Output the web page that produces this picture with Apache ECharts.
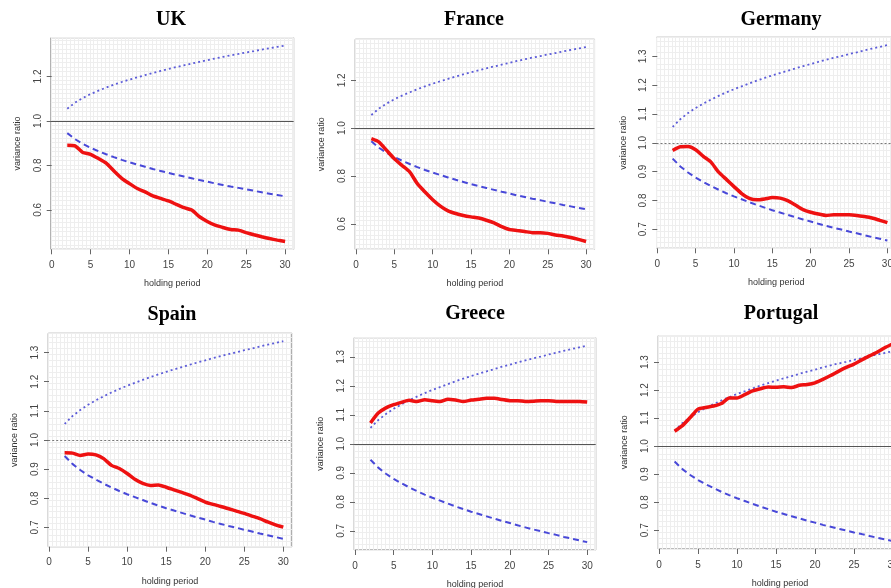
<!DOCTYPE html>
<html><head><meta charset="utf-8">
<script src="https://cdn.jsdelivr.net/npm/echarts@6/dist/echarts.min.js"></script>
<style>html,body{margin:0;padding:0;background:#fff;overflow:hidden}#c{width:891px;height:588px}</style>
</head><body><div id="c"></div>
<script>
// ---- data ----
const holdingPeriods = [2,3,4,5,6,7,8,9,10,11,12,13,14,15,16,17,18,19,20,21,22,23,24,25,26,27,28,29,30];
const upperBound = [1.055,1.082,1.103,1.121,1.136,1.150,1.163,1.175,1.186,1.196,1.206,1.216,1.225,1.234,1.242,1.250,1.258,1.266,1.273,1.281,1.288,1.295,1.301,1.308,1.314,1.321,1.327,1.333,1.339];
const lowerBound = [0.945,0.918,0.897,0.879,0.864,0.850,0.837,0.825,0.814,0.804,0.794,0.784,0.775,0.766,0.758,0.750,0.742,0.734,0.727,0.719,0.712,0.705,0.699,0.692,0.686,0.679,0.673,0.667,0.661];
const ukRatio = [0.891,0.888,0.858,0.850,0.831,0.810,0.775,0.742,0.718,0.696,0.681,0.663,0.652,0.640,0.625,0.610,0.599,0.569,0.548,0.531,0.521,0.512,0.509,0.498,0.488,0.479,0.471,0.464,0.458];
const franceRatio = [0.956,0.942,0.907,0.872,0.844,0.817,0.768,0.733,0.701,0.674,0.654,0.643,0.635,0.629,0.624,0.615,0.604,0.588,0.576,0.572,0.568,0.563,0.563,0.560,0.553,0.549,0.543,0.535,0.526];
const germanyRatio = [0.973,0.986,0.987,0.976,0.953,0.933,0.898,0.873,0.848,0.824,0.807,0.802,0.805,0.810,0.808,0.799,0.784,0.768,0.759,0.753,0.748,0.750,0.750,0.750,0.748,0.744,0.739,0.731,0.723];
const spainRatio = [0.956,0.955,0.947,0.952,0.949,0.936,0.913,0.902,0.885,0.865,0.851,0.844,0.846,0.838,0.829,0.820,0.811,0.799,0.787,0.779,0.772,0.764,0.756,0.748,0.739,0.730,0.719,0.709,0.701];
const greeceRatio = [1.072,1.106,1.124,1.135,1.143,1.150,1.146,1.152,1.149,1.146,1.154,1.151,1.146,1.151,1.154,1.157,1.157,1.153,1.149,1.149,1.146,1.147,1.149,1.149,1.146,1.146,1.146,1.146,1.144];
const portugalRatio = [1.053,1.073,1.102,1.132,1.138,1.143,1.152,1.172,1.172,1.184,1.197,1.205,1.211,1.210,1.212,1.209,1.217,1.220,1.226,1.238,1.252,1.267,1.281,1.293,1.308,1.322,1.336,1.352,1.366];
const countries = ['UK','France','Germany','Spain','Greece','Portugal'];
const ratios = [ukRatio, franceRatio, germanyRatio, spainRatio, greeceRatio, portugalRatio];
const xTickLabels = [0,5,10,15,20,25,30];
const yTicksWide = [0.6,0.8,1.0,1.2];
const yTicksNarrow = [0.7,0.8,0.9,1.0,1.1,1.2,1.3];
const yTickSets = [yTicksWide, yTicksWide, yTicksNarrow, yTicksNarrow, yTicksNarrow, yTicksNarrow];
const xAxisName = 'holding period';
const yAxisName = 'variance ratio';

// ---- layout (pixels) ----
const layout = [
  {x0:51.7, ppu:7.78, top:37.7, bottom:249.3, tx:171, ty:20, refDotted:false},
  {x0:356,  ppu:7.67, top:39.3, bottom:249.3, tx:474, ty:20, refDotted:false},
  {x0:657.3,ppu:7.67, top:37.3, bottom:248.3, tx:781, ty:20, refDotted:true},
  {x0:49,   ppu:7.81, top:333.3,bottom:546.7, tx:172, ty:315, refDotted:true},
  {x0:355,  ppu:7.74, top:337.7,bottom:550,   tx:475, ty:314, refDotted:false},
  {x0:659,  ppu:7.80, top:335.7,bottom:549,   tx:781, ty:314, refDotted:false}
];
const XMIN = -0.1, XMAX = 31.1;
const labelFont = {fontFamily:'Liberation Sans, Arial, sans-serif', fontSize:10, color:'#444'};

const grids = [], xAxes = [], yAxes = [], series = [], graphics = [];
countries.forEach((name, i) => {
  const L = layout[i];
  const r = ratios[i];
  const all = r.concat(upperBound, lowerBound);
  const lo = Math.min(...all), hi = Math.max(...all), span = hi - lo;
  const ymin = lo - 0.04*span, ymax = hi + 0.04*span;
  grids.push({left: L.x0 - 0.1*L.ppu, top: L.top, width: (XMAX-XMIN)*L.ppu, height: L.bottom - L.top,
    show:true, backgroundColor:'#fff', borderColor:'#7a7a7a', borderWidth:1, containLabel:false,
    outerBoundsMode:'none'});
  // visible x axis
  xAxes.push({type:'value', gridIndex:i, min:XMIN, max:XMAX, position:'bottom',
    axisLine:{show:false},
    axisTick:{show:true, length:5, customValues:xTickLabels, lineStyle:{color:'#666'}},
    axisLabel:Object.assign({customValues:xTickLabels, margin:11}, labelFont),
    splitLine:{show:false},
    name:xAxisName, nameLocation:'middle', nameGap:30,
    nameTextStyle:{fontFamily:'Liberation Sans, Arial, sans-serif', fontSize:9, color:'#333'}
  });
  // fine grid x axis
  xAxes.push({type:'value', gridIndex:i, min:XMIN, max:XMAX, interval:0.5, show:true,
    axisLine:{show:false}, axisTick:{show:false}, axisLabel:{show:false},
    splitLine:{show:true, lineStyle:{color:'#eeeeee', width:1}}});
  const yt = yTickSets[i];
  yAxes.push({type:'value', gridIndex:i, min:ymin, max:ymax, position:'left',
    axisLine:{show:false},
    axisTick:{show:true, length:5, customValues:yt, lineStyle:{color:'#666'}},
    axisLabel:Object.assign({customValues:yt, rotate:90, margin:8, formatter:v => v.toFixed(1)}, labelFont),
    splitLine:{show:false},
    name:yAxisName, nameLocation:'middle', nameGap:29, nameRotate:90,
    nameTextStyle:{fontFamily:'Liberation Sans, Arial, sans-serif', fontSize:9, color:'#333'}
  });
  yAxes.push({type:'value', gridIndex:i, min:ymin, max:ymax, interval:0.02, show:true,
    axisLine:{show:false}, axisTick:{show:false}, axisLabel:{show:false},
    splitLine:{show:true, lineStyle:{color:'#eeeeee', width:1}}});
  const xi = 2*i, yi = 2*i;
  series.push({type:'line', xAxisIndex:xi, yAxisIndex:yi, symbol:'none', silent:true, z:3,
    data: holdingPeriods.map((q,k)=>[q, lowerBound[k]]),
    lineStyle:{color:'#4848d8', width:2, type:[6,4]},
    markLine:{silent:true, symbol:'none', label:{show:false},
      lineStyle: L.refDotted ? {color:'#777', width:1, type:[2,2]} : {color:'#555', width:1.2, type:'solid'},
      data:[{yAxis:1}]}
  });
  series.push({type:'line', xAxisIndex:xi, yAxisIndex:yi, symbol:'none', silent:true, z:3,
    data: holdingPeriods.map((q,k)=>[q, upperBound[k]]),
    lineStyle:{color:'#5c5cd8', width:1.8, type:[2,3]}});
  series.push({type:'line', xAxisIndex:xi, yAxisIndex:yi, symbol:'none', silent:true, z:4,
    data: holdingPeriods.map((q,k)=>[q, r[k]]), smooth:0.2,
    lineStyle:{color:'#ee1111', width:3.5}});
  graphics.push({type:'text', x:L.tx, y:L.ty, silent:true,
    style:{text:name, font:'bold 20px "Liberation Serif", "Times New Roman", serif', fill:'#000',
      textAlign:'center', textVerticalAlign:'middle'}});
});

const chart = echarts.init(document.getElementById('c'), null, {renderer:'canvas'});
chart.setOption({
  animation:false,
  backgroundColor:'#fff',
  grid:grids, xAxis:xAxes, yAxis:yAxes, series:series, graphic:graphics
});
</script></body></html>
